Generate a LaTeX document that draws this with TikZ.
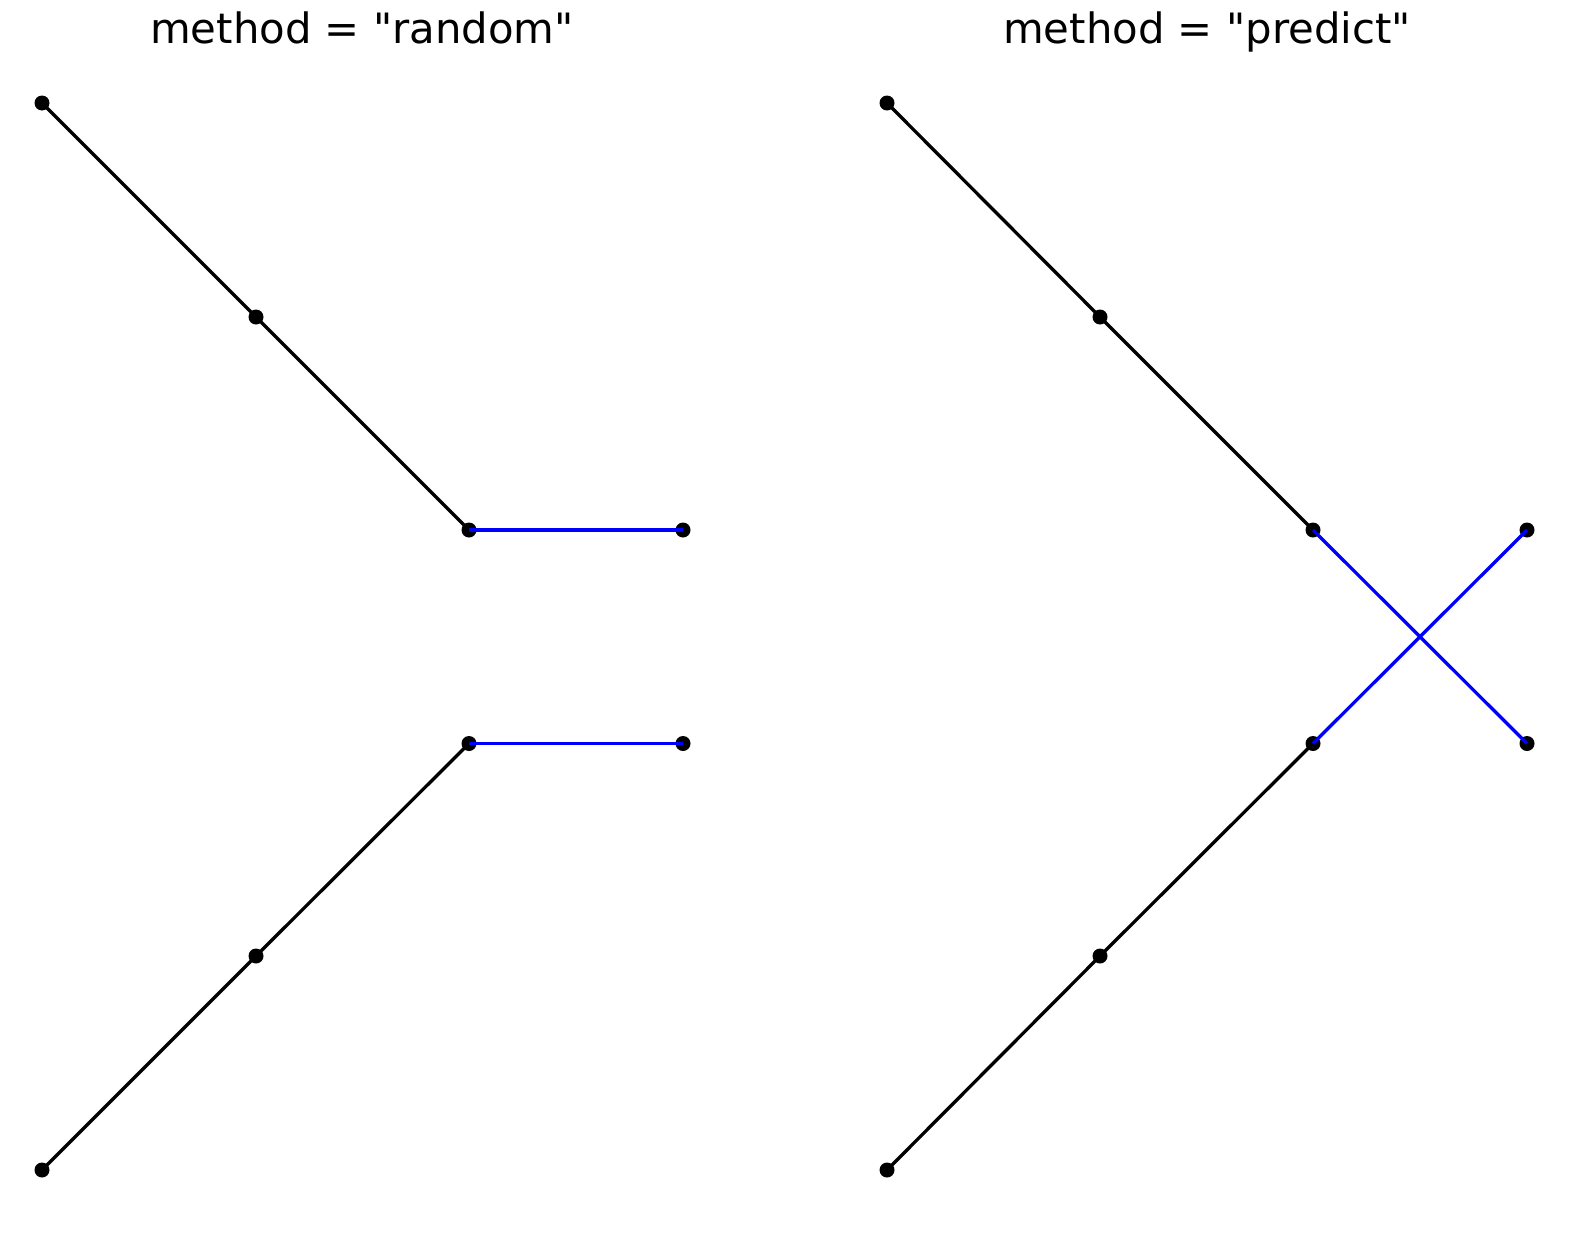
\documentclass[tikz,border=0pt]{standalone}
\usepackage{fontspec}
\setmainfont{DejaVu Sans}[Ligatures=TeXOff]
\begin{document}
\begin{tikzpicture}[x=1pt,y=-1pt,
  edge/.style={line width=3.3pt,black},
  blueedge/.style={line width=3.3pt,blue},
  dot/.style={circle,fill=black,inner sep=0pt,minimum size=15pt},
  title/.style={font=\fontsize{41.8}{50}\selectfont,inner sep=0pt,anchor=base}]
\useasboundingbox (0,0) rectangle (1569,1234);
% left panel
\coordinate (L1) at (42,103);
\coordinate (L2) at (256,317);
\coordinate (L3) at (469,530);
\coordinate (L4) at (683,530);
\coordinate (L5) at (469,743.5);
\coordinate (L6) at (683,743.5);
\coordinate (L7) at (256,956);
\coordinate (L8) at (42,1170);
% right panel
\coordinate (R1) at (887,103);
\coordinate (R2) at (1100,317);
\coordinate (R3) at (1313,530);
\coordinate (R4) at (1527,530);
\coordinate (R5) at (1313,743.5);
\coordinate (R6) at (1527,743.5);
\coordinate (R7) at (1100,956);
\coordinate (R8) at (887,1170);
\draw[edge] (L1) -- (L2) -- (L3);
\draw[edge] (L8) -- (L7) -- (L5);
\draw[edge] (R1) -- (R2) -- (R3);
\draw[edge] (R8) -- (R7) -- (R5);
\foreach \p in {L1,L2,L3,L4,L5,L6,L7,L8,R1,R2,R3,R4,R5,R6,R7,R8}
  \node[dot] (d\p) at (\p) {};
\draw[blueedge] (dL3.center) -- (dL4.center);
\draw[blueedge] (dL5.center) -- (dL6.center);
\draw[blueedge] (dR3.center) -- (dR6.center);
\draw[blueedge] (dR5.center) -- (dR4.center);
\node[title] (t1) at (362,43) {method = "random"};
\node[title] (t2) at (1207,43) {method = "predict"};
\end{tikzpicture}
\end{document}
